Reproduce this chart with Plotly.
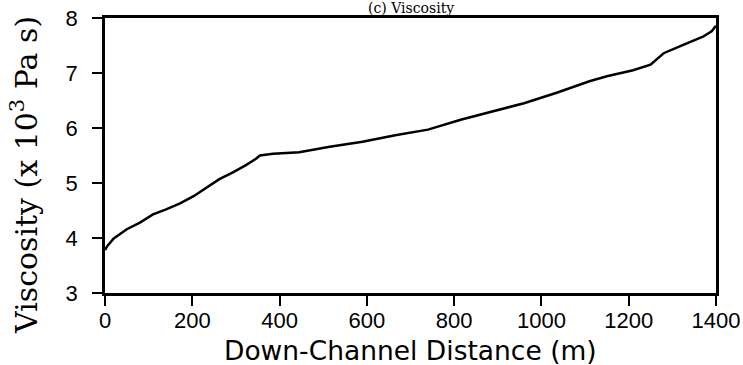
import plotly.graph_objects as go

distance_m = [0, 5, 20, 50, 80, 110, 140, 172, 203, 232, 262, 292, 322, 346, 355,
              385, 415, 445, 515, 590, 665, 740, 815, 885, 960, 1035, 1110, 1150,
              1210, 1250, 1280, 1325, 1370, 1390, 1400]
viscosity = [3.78, 3.85, 3.99, 4.16, 4.28, 4.43, 4.52, 4.63, 4.76, 4.91, 5.07, 5.19,
             5.32, 5.44, 5.50, 5.53, 5.55, 5.56, 5.66, 5.75, 5.87, 5.97, 6.15, 6.30,
             6.45, 6.64, 6.85, 6.94, 7.05, 7.15, 7.36, 7.51, 7.66, 7.76, 7.86]
x_ticks = [0, 200, 400, 600, 800, 1000, 1200, 1400]
y_ticks = [3, 4, 5, 6, 7, 8]

fig = go.Figure()
fig.add_trace(go.Scatter(x=distance_m, y=viscosity, mode="lines",
                         line=dict(color="black", width=2.5), showlegend=False))

W, H = 743, 365
ml, mr, mt, mb = 105, 27, 18, 72
pw, ph = W - ml - mr, H - mt - mb
serif = "DejaVu Serif, Liberation Serif, serif"
fig.update_layout(
    width=W, height=H,
    margin=dict(l=ml, r=mr, t=mt, b=mb, autoexpand=False),
    plot_bgcolor="white", paper_bgcolor="white",
    font=dict(family="Liberation Sans, Arial, sans-serif", color="black"),
)
fig.update_xaxes(
    range=[0, 1400], tickvals=x_ticks, ticks="outside", ticklen=10, tickwidth=2,
    tickcolor="black", showline=True, linecolor="black", linewidth=2.5,
    mirror=True, showgrid=False, zeroline=False, automargin=False,
    tickfont=dict(size=22), ticklabelstandoff=-4,
)
fig.update_yaxes(
    range=[3, 8], tickvals=y_ticks, ticks="outside", ticklen=10, tickwidth=2,
    tickcolor="black", showline=True, linecolor="black", linewidth=2.5,
    mirror=True, showgrid=False, zeroline=False, automargin=False,
    tickfont=dict(size=22), ticklabelstandoff=10,
)
# x-axis title (centre near pixel x=410, y=350)
fig.add_annotation(text="Down-Channel Distance (m)", xref="paper", yref="paper",
                   x=(410 - ml) / pw, y=(H - mb - 350) / ph, xanchor="center",
                   yanchor="middle", showarrow=False,
                   font=dict(family="DejaVu Sans, sans-serif", size=26.5))
# y-axis title (centre near pixel x=24, y=175)
fig.add_annotation(text="Viscosity (x 10<sup>3</sup> Pa s)", xref="paper", yref="paper",
                   x=(24 - ml) / pw, y=(H - mb - 175) / ph, xanchor="center",
                   yanchor="middle", textangle=-90, showarrow=False,
                   font=dict(family=serif, size=30))
fig.add_annotation(text="(c) Viscosity", xref="paper", yref="paper", x=0.5, y=1.0,
                   yshift=0, yanchor="bottom", showarrow=False,
                   font=dict(family=serif, size=14))

fig.write_html("out.html")
